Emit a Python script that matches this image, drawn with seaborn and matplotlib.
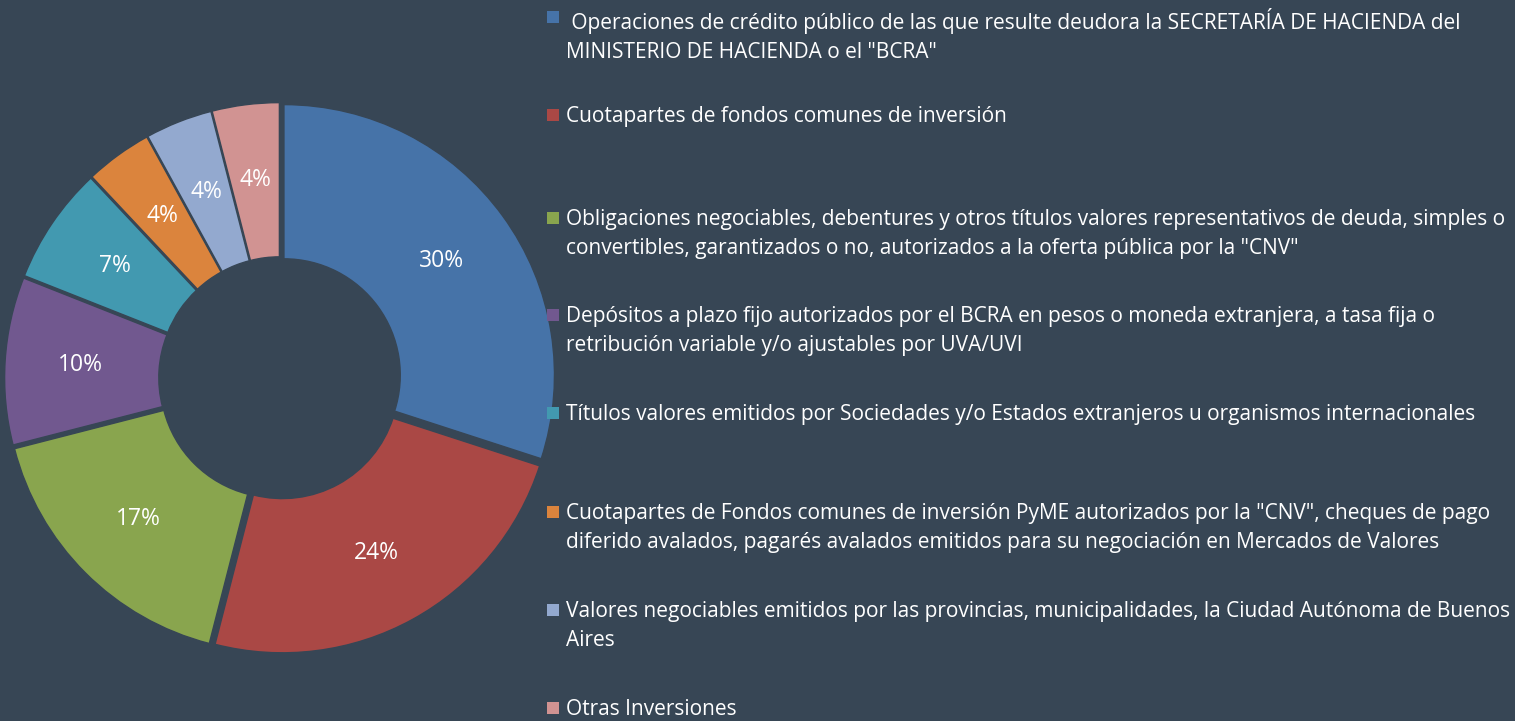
import matplotlib
matplotlib.use("Agg")
import matplotlib.pyplot as plt
import seaborn as sns
from matplotlib.patches import Rectangle

# datos del gráfico
categorias = [
    ' Operaciones de crédito público de las que resulte deudora la SECRETARÍA DE HACIENDA del\nMINISTERIO DE HACIENDA o el "BCRA"',
    'Cuotapartes de fondos comunes de inversión',
    'Obligaciones negociables, debentures y otros títulos valores representativos de deuda, simples o\nconvertibles, garantizados o no, autorizados a la oferta pública por la "CNV"',
    'Depósitos a plazo fijo autorizados por el BCRA en pesos o moneda extranjera, a tasa fija o\nretribución variable y/o ajustables por UVA/UVI',
    'Títulos valores emitidos por Sociedades y/o Estados extranjeros u organismos internacionales',
    'Cuotapartes de Fondos comunes de inversión PyME autorizados por la "CNV", cheques de pago\ndiferido avalados, pagarés avalados emitidos para su negociación en Mercados de Valores',
    'Valores negociables emitidos por las provincias, municipalidades, la Ciudad Autónoma de Buenos\nAires',
    'Otras Inversiones',
]
porcentajes = [30, 24, 17, 10, 7, 4, 4, 4]
colores = ['#4673A8', '#AA4845', '#89A54E', '#71588F', '#4299B0', '#DB843D', '#93A9CF', '#D19392']

fondo = '#374655'

sns.set_theme(style="white")
plt.rcParams['font.family'] = ['Open Sans', 'DejaVu Sans']

fig = plt.figure(figsize=(15.15, 7.21), dpi=100, facecolor=fondo)
W, H = 1515, 721

# dona
ax = fig.add_axes([0, 63 / H, 560 / W, 560 / H])
ax.set_facecolor(fondo)
wedges, textos, autotextos = ax.pie(
    porcentajes,
    colors=sns.color_palette(colores),
    startangle=90,
    counterclock=False,
    explode=[0.018] * len(porcentajes),
    autopct=lambda p: f'{p:.0f}%',
    pctdistance=0.72,
    wedgeprops=dict(width=0.57, edgecolor=fondo, linewidth=1),
    textprops=dict(color='white', fontsize=16.5),
)
ax.set_xlim(-1.035, 1.035)
ax.set_ylim(-1.035, 1.035)
ax.set_aspect('equal')
ax.axis('off')

# leyenda manual
y_primera = [17, 115, 218, 315, 413, 512, 610, 708]
for cat, col, y in zip(categorias, colores, y_primera):
    fig.patches.append(Rectangle((547 / W, 1 - (y + 6) / H), 12 / W, 12 / H,
                                 transform=fig.transFigure, facecolor=col, edgecolor='none'))
    fig.text(566 / W, 1 - (y - 9) / H, cat, color='white', fontsize=15,
             va='top', ha='left', linespacing=1.48)

fig.savefig('out.png', dpi=100, facecolor=fondo)
